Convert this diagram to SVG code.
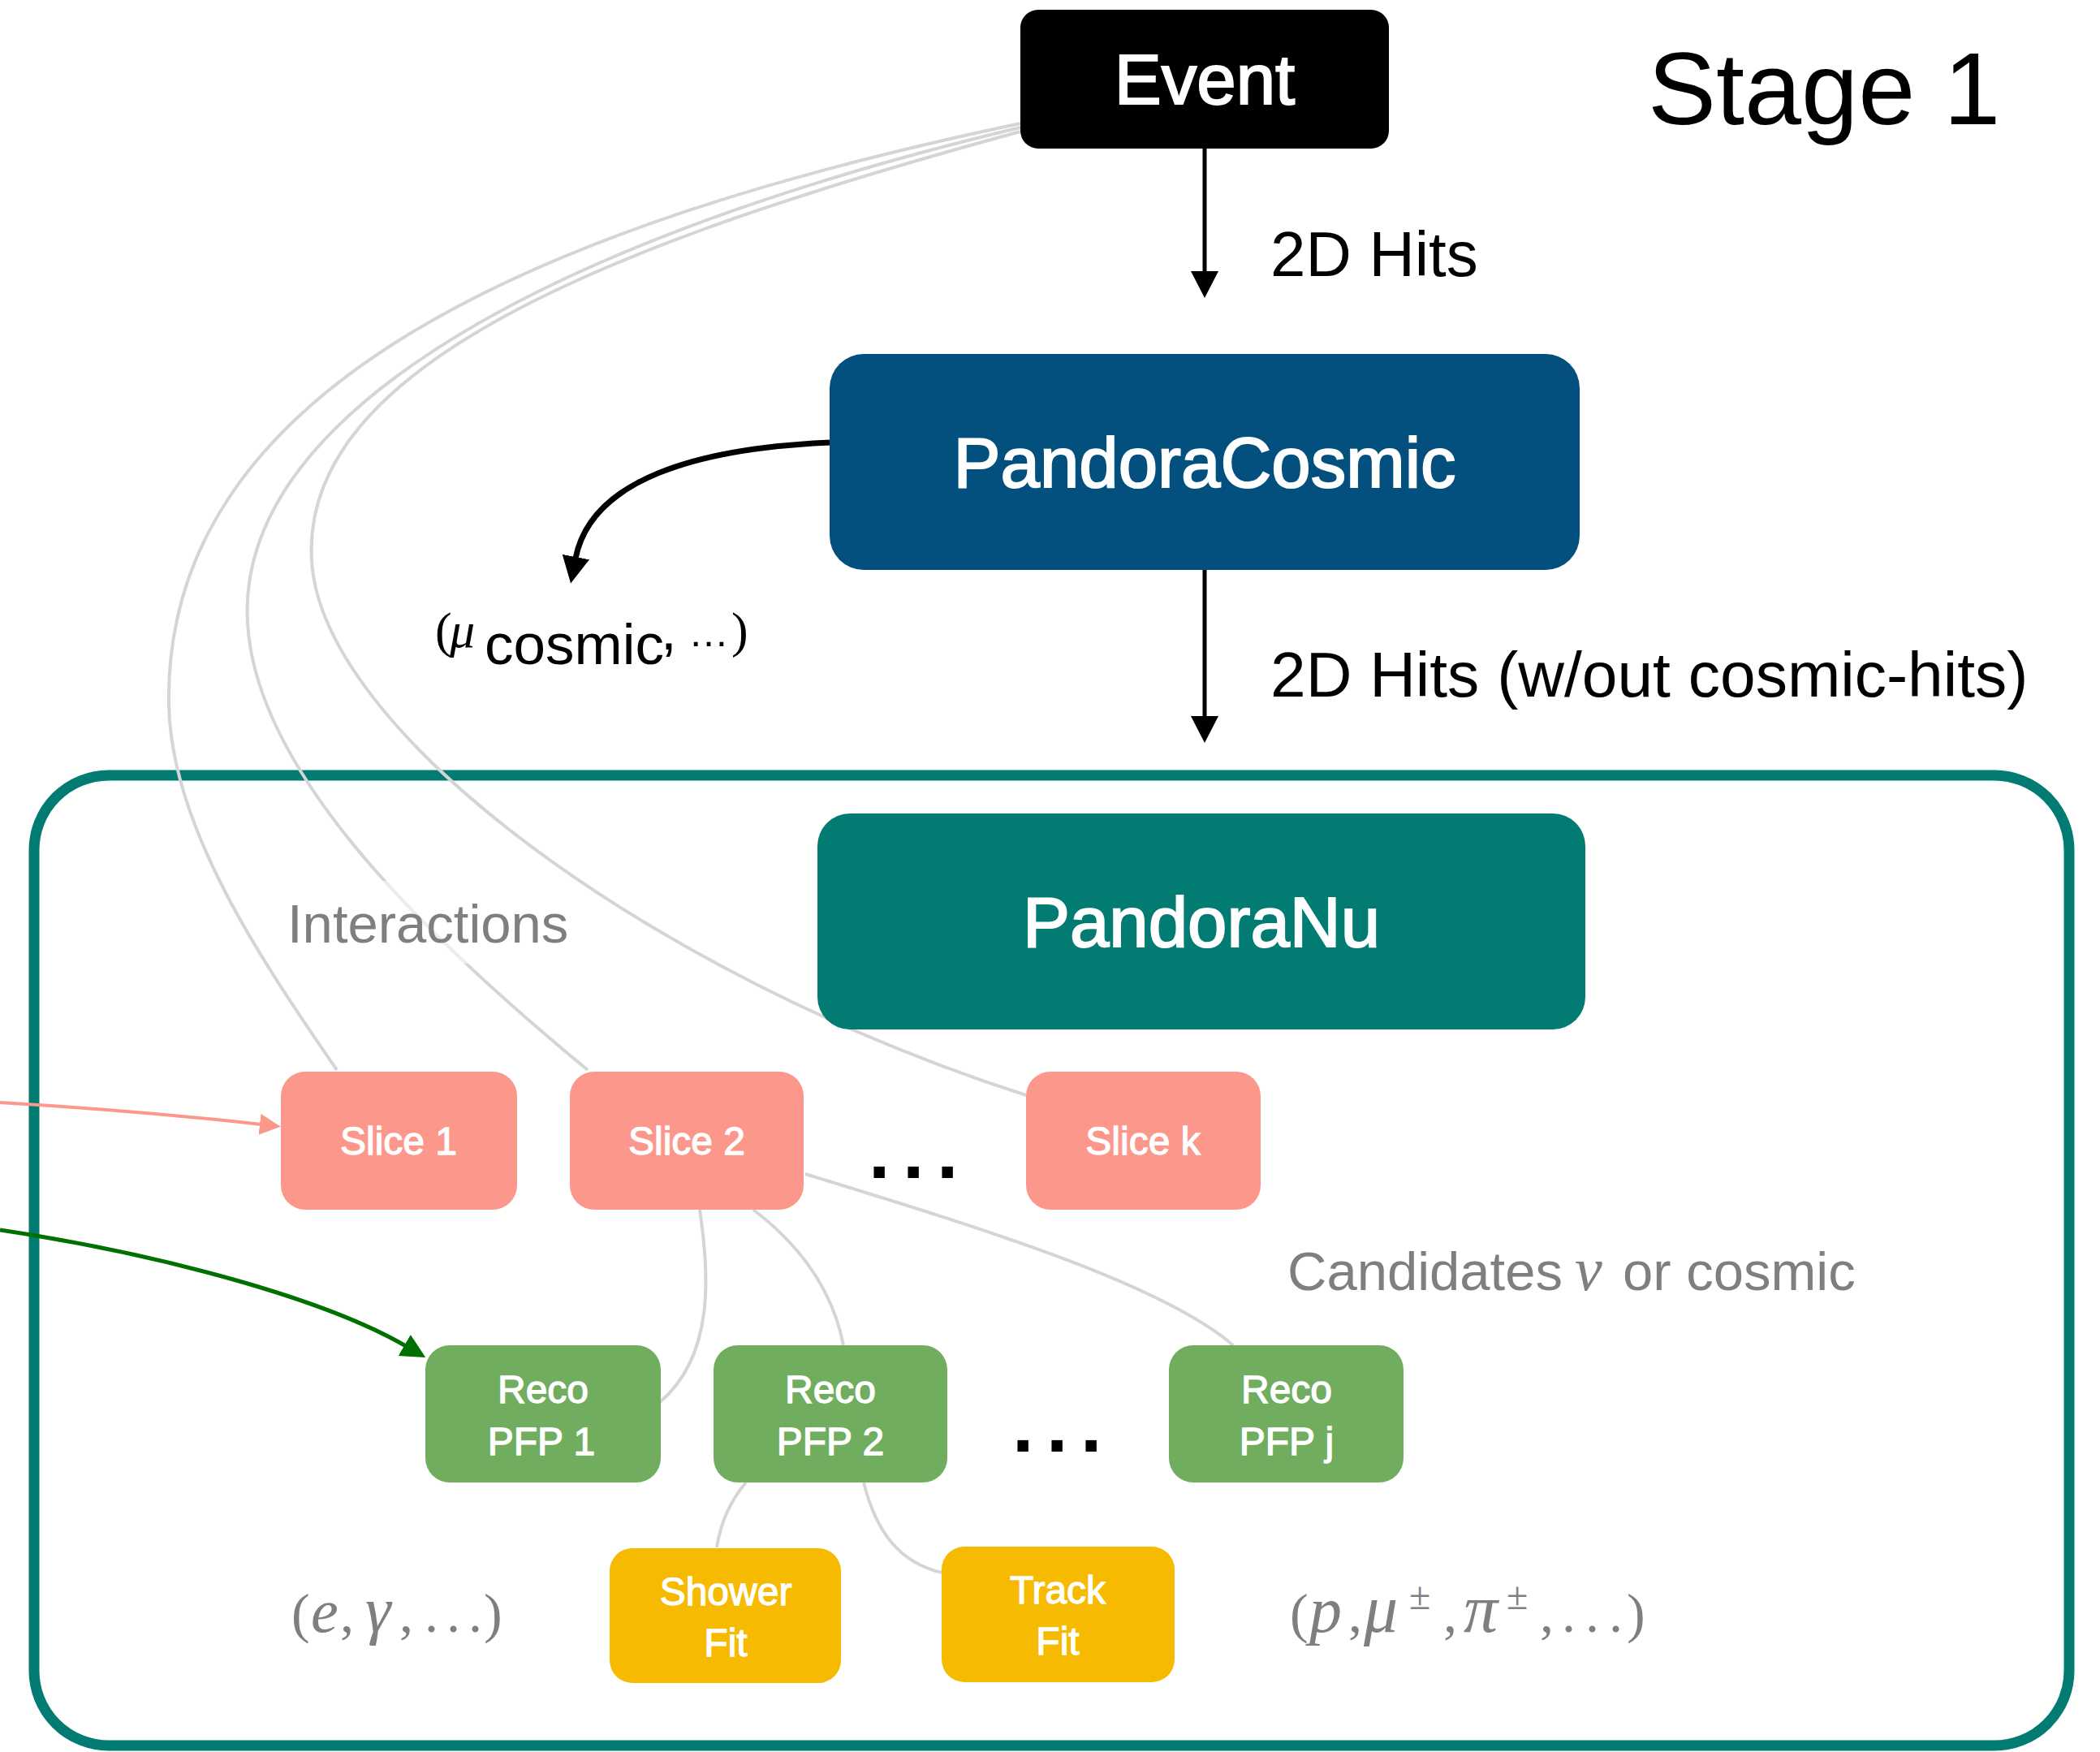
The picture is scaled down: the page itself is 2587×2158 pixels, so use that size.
<svg xmlns="http://www.w3.org/2000/svg" width="2587" height="2158" viewBox="0 0 2587 2158">
<style>
.sans{font-family:"Liberation Sans",Arial,Helvetica,sans-serif}
.math{font-family:"Liberation Serif","Times New Roman",serif;font-style:italic}
.up{font-style:normal}
.lbl{font-family:"Liberation Sans",Arial,Helvetica,sans-serif;fill:#fff;stroke:#fff;text-anchor:middle}
.big{font-size:87px;stroke-width:2}
.small{font-size:48px;stroke-width:1.3}
.gray{fill:#7f7f7f}
.link{fill:none;stroke:#d5d5d5;stroke-width:4}
.blk{fill:none;stroke:#000;stroke-width:5}
.slice{fill:#fc978c}
.reco{fill:#71ad5f}
.fit{fill:#f6ba00}
.dots{font-family:"Liberation Sans",Arial,sans-serif;font-weight:bold;font-size:95px;letter-spacing:15.6px}
</style>
<defs>
<marker id="ab" markerUnits="userSpaceOnUse" viewBox="0 0 33 34" refX="2" refY="17" markerWidth="33" markerHeight="34" orient="auto"><path d="M0,0 L33,17 L0,34 z" fill="#000"/></marker>
<marker id="ap" markerUnits="userSpaceOnUse" viewBox="0 0 26 26" refX="2" refY="13" markerWidth="26" markerHeight="26" orient="auto"><path d="M0,0 L26,13 L0,26 z" fill="#fc978c"/></marker>
<marker id="ag" markerUnits="userSpaceOnUse" viewBox="0 0 30 30" refX="2" refY="15" markerWidth="30" markerHeight="30" orient="auto"><path d="M0,0 L30,15 L0,30 z" fill="#007000"/></marker>
</defs>
<rect width="2587" height="2158" fill="#fff"/>

<g id="container">
<rect x="42" y="955" width="2507" height="1195" rx="92" fill="none" stroke="#027b73" stroke-width="13"/>
</g>

<g id="connectors">
<path class="link" d="M1257,152 C650,280 200,480 208,870 C212,1020 320,1180 415,1318"/>
<path class="link" d="M1257,157 C700,290 290,500 305,767 C315,950 520,1150 724,1318"/>
<path class="link" d="M1257,162 C750,300 370,450 384,690 C395,900 800,1200 1264,1349"/>
<path class="link" d="M862,1490 C874,1570 880,1670 813,1727"/>
<path class="link" d="M928,1490 Q1020,1560 1039,1657"/>
<path class="link" d="M992,1446 C1200,1510 1430,1580 1519,1657"/>
<path class="link" d="M919,1826 Q890,1860 883,1906"/>
<path class="link" d="M1064,1826 C1080,1890 1110,1925 1160,1937"/>
<path class="blk" d="M1484,182 L1484,336" marker-end="url(#ab)"/>
<path class="blk" d="M1484,702 L1484,884" marker-end="url(#ab)"/>
<path fill="none" stroke="#000" stroke-width="7" d="M1022,545 C860,552 728,590 709,688" marker-end="url(#ab)"/>
<path fill="none" stroke="#fc978c" stroke-width="4" d="M0,1358 Q170,1368 322,1385" marker-end="url(#ap)"/>
<path fill="none" stroke="#007000" stroke-width="5" d="M0,1515 C200,1545 400,1600 500,1658" marker-end="url(#ag)"/>
</g>

<g id="event">
<rect x="1257" y="12" width="454" height="171" rx="22" fill="#000"/>
<text class="lbl big" x="1484" y="128">Event</text>
</g>

<g id="stage">
<text class="sans" x="2030" y="153" font-size="126">Stage 1</text>
</g>

<g id="label-hits">
<text class="sans" x="1565" y="340" font-size="78">2D Hits</text>
</g>

<g id="pandoracosmic">
<rect x="1022" y="436" width="924" height="266" rx="42" fill="#034f7d"/>
<text class="lbl big" x="1484" y="600">PandoraCosmic</text>
</g>

<g id="cosmic-out">
<text font-size="62" class="math up" x="536" y="797">(</text>
<text font-size="62" class="math" x="554" y="797">μ</text>
<text class="sans" font-size="71" x="597" y="818">cosmic</text>
<text class="sans" font-size="71" x="814" y="800">,</text>
<text class="sans" font-size="50" x="848" y="796">…</text>
<text font-size="62" class="math up" x="901" y="797">)</text>
</g>

<g id="label-hits2">
<text class="sans" x="1565" y="858" font-size="78.5">2D Hits (w/out cosmic-hits)</text>
</g>

<g id="pandoranu">
<rect x="1007" y="1002" width="946" height="266" rx="40" fill="#027b73"/>
<text class="lbl big" x="1480" y="1166">PandoraNu</text>
</g>

<g id="label-interactions">
<rect x="350" y="1085" width="360" height="102" fill="#fff" opacity="0.55"/>
<text class="sans gray" x="354" y="1161" font-size="67">Interactions</text>
</g>

<g id="slice1">
<rect class="slice" x="346" y="1320" width="291" height="170" rx="30"/>
<text class="lbl small" x="491" y="1422">Slice 1</text>
</g>
<g id="slice2">
<rect class="slice" x="702" y="1320" width="288" height="170" rx="30"/>
<text class="lbl small" x="846" y="1422">Slice 2</text>
</g>
<g id="slice-dots">
<text class="dots" x="1070" y="1451">...</text>
</g>
<g id="slicek">
<rect class="slice" x="1264" y="1320" width="289" height="170" rx="30"/>
<text class="lbl small" x="1408" y="1422">Slice k</text>
</g>

<g id="label-candidates">
<text class="sans gray" font-size="67" y="1589"><tspan x="1586">Candidates</tspan><tspan class="math" x="1940" font-size="76">ν</tspan><tspan x="1999">or cosmic</tspan></text>
</g>

<g id="reco1">
<rect class="reco" x="524" y="1657" width="290" height="169" rx="30"/>
<text class="lbl small" x="669" y="1728">Reco</text>
<text class="lbl small" x="667" y="1792">PFP 1</text>
</g>
<g id="reco2">
<rect class="reco" x="879" y="1657" width="288" height="169" rx="30"/>
<text class="lbl small" x="1023" y="1728">Reco</text>
<text class="lbl small" x="1023" y="1792">PFP 2</text>
</g>
<g id="reco-dots">
<text class="dots" x="1247" y="1788">...</text>
</g>
<g id="recoj">
<rect class="reco" x="1440" y="1657" width="289" height="169" rx="30"/>
<text class="lbl small" x="1585" y="1728">Reco</text>
<text class="lbl small" x="1585" y="1792">PFP j</text>
</g>

<g id="shower">
<rect class="fit" x="751" y="1907" width="285" height="166" rx="28"/>
<text class="lbl small" x="894" y="1977">Shower</text>
<text class="lbl small" x="894" y="2040">Fit</text>
</g>
<g id="track">
<rect class="fit" x="1160" y="1905" width="287" height="167" rx="28"/>
<text class="lbl small" x="1303" y="1975">Track</text>
<text class="lbl small" x="1303" y="2038">Fit</text>
</g>

<g id="label-egamma">
<text class="math gray" font-size="68" y="2010"><tspan x="359" class="up">(</tspan><tspan x="383" font-size="76">e</tspan><tspan x="419" class="up">,</tspan><tspan x="450" font-size="80">γ</tspan><tspan x="492" class="up">,</tspan><tspan x="523" class="up">.</tspan><tspan x="550" class="up">.</tspan><tspan x="577" class="up">.</tspan><tspan x="596" class="up">)</tspan></text>
</g>

<g id="label-tracks">
<text class="math gray" font-size="68" y="2010"><tspan x="1589" class="up">(</tspan><tspan x="1613" font-size="80">p</tspan><tspan x="1661" class="up">,</tspan><tspan x="1680" font-size="84">μ</tspan><tspan x="1736" y="1982" font-size="48" class="up">±</tspan><tspan x="1778" y="2010" class="up">,</tspan><tspan x="1803" font-size="84">π</tspan><tspan x="1856" y="1982" font-size="48" class="up">±</tspan><tspan x="1897" y="2010" class="up">,</tspan><tspan x="1924" class="up">.</tspan><tspan x="1953" class="up">.</tspan><tspan x="1982" class="up">.</tspan><tspan x="2004" class="up">)</tspan></text>
</g>
</svg>
